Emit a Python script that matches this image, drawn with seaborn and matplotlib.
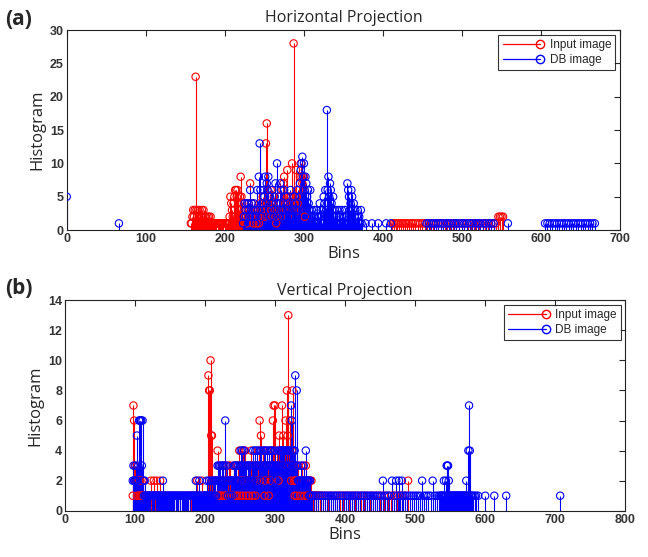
import numpy as np
import pandas as pd
import matplotlib
matplotlib.use("Agg")
import matplotlib.pyplot as plt
import seaborn as sns
from matplotlib.lines import Line2D
from matplotlib.legend_handler import HandlerLine2D

# ---- data: (a) horizontal projection ----
h_input_start = 157
h_input_vals = [1, 1, 2, 3, 2, 3, 23, 3, 2, 3,
                2, 3, 1, 2, 3, 2, 3, 1, 2, 2,
                1, 2, 1, 2, 1, 2, 1, 1, 1, 1,
                1, 1, 1, 0, 1, 1, 1, 1, 1, 1,
                1, 1, 0, 1, 1, 1, 1, 1, 1, 2,
                5, 4, 3, 2, 4, 5, 6, 6, 5, 6,
                4, 3, 5, 8, 5, 4, 2, 3, 4, 2,
                3, 1, 2, 4, 3, 7, 2, 4, 3, 1,
                2, 3, 2, 1, 3, 2, 1, 4, 2, 3,
                2, 5, 3, 2, 4, 13, 16, 6, 4, 3,
                5, 6, 3, 2, 4, 5, 3, 2, 1, 3,
                2, 4, 3, 5, 2, 3, 6, 7, 8, 4,
                3, 5, 9, 4, 5, 3, 5, 4, 10, 5,
                28, 3, 4, 9, 5, 4, 3, 6, 8, 10,
                8, 7, 6, 8, 2]
h_input_tail_bins = [412, 414, 416, 418, 420, 423, 425, 428, 430, 433, 436, 438, 441,
                     444, 447, 450, 453, 456, 460, 463, 467, 470, 474, 478, 481, 485,
                     489, 492, 496, 500, 503, 507, 511, 515, 518, 522, 526, 529, 533,
                     537, 540, 543, 546, 548, 550, 552]
h_input_tail_vals = [1, 1, 1, 1, 1, 1, 1, 1, 1, 1, 1, 1, 1,
                     1, 1, 1, 1, 1, 1, 1, 1, 1, 1, 1, 1, 1,
                     1, 1, 1, 1, 1, 1, 1, 1, 1, 1, 1, 1, 1,
                     1, 1, 1, 2, 2, 2, 2]

h_db_start = 223
h_db_vals = [1, 2, 4, 3, 2, 4, 3, 4, 2, 6,
             3, 4, 2, 3, 4, 2, 3, 2, 6, 3,
             8, 13, 6, 2, 4, 3, 6, 5, 8, 4,
             7, 6, 8, 3, 5, 2, 4, 6, 3, 2,
             5, 7, 4, 10, 3, 2, 4, 7, 6, 3,
             2, 4, 6, 3, 5, 2, 3, 4, 2, 3,
             6, 2, 4, 3, 2, 5, 3, 4, 2, 6,
             3, 5, 7, 9, 10, 11, 8, 10, 6, 8,
             7, 5, 6, 4, 3, 6, 2, 3, 1, 2,
             3, 2, 1, 3, 2, 1, 2, 4, 3, 2,
             1, 3, 5, 4, 6, 3, 18, 6, 8, 5,
             7, 6, 4, 3, 5, 2, 3, 1, 2, 3,
             1, 2, 3, 2, 1, 3, 2, 1, 2, 3,
             1, 2, 7, 6, 5, 3, 4, 6, 5, 3,
             4, 2, 3, 1, 2, 3, 1, 2, 1, 3,
             1]
h_db_tail_bins = [0, 66, 378, 386, 394, 404, 410, 455, 458, 461, 464, 467, 470, 473,
                  476, 480, 483, 486, 490, 493, 496, 500, 503, 506, 510, 513, 517, 520,
                  523, 527, 530, 534, 537, 540, 558, 605, 608, 611, 614, 617, 620, 623,
                  626, 629, 632, 635, 638, 641, 644, 647, 650, 653, 656, 659, 662, 665, 668]
h_db_tail_vals = [5, 1, 1, 1, 1, 1, 1, 1, 1, 1, 1, 1, 1, 1,
                  1, 1, 1, 1, 1, 1, 1, 1, 1, 1, 1, 1, 1, 1,
                  1, 1, 1, 1, 1, 1, 1, 1, 1, 1, 1, 1, 1, 1,
                  1, 1, 1, 1, 1, 1, 1, 1, 1, 1, 1, 1, 1, 1, 1]

# ---- data: (b) vertical projection ----
v_input_start = 97
v_input_vals = [1, 7, 6, 3, 2, 2, 1, 2, 1, 2,
                1, 2, 1, 1, 2, 1]
v_input_mid_bins = [115, 118, 121, 123, 125, 127, 129, 131, 134, 136, 139, 143, 147, 150,
                    154, 158, 161, 165, 169, 172, 176, 180, 183, 186, 189, 193, 196, 199, 202]
v_input_mid_vals = [1, 1, 1, 2, 1, 2, 1, 2, 1, 2, 1, 1, 1, 1,
                    1, 1, 1, 1, 1, 1, 1, 1, 1, 1, 2, 1, 2, 1, 1]
v_input_start2 = 205
v_input_vals2 = [9, 8, 8, 10, 5, 5, 2, 1, 2, 1,
                 2, 1, 2, 4, 1, 3, 2, 1, 2, 1,
                 2, 3, 1, 2, 1, 3, 2, 1, 2, 3,
                 1, 3, 2, 1, 2, 1, 3, 2, 1, 2,
                 3, 1, 3, 2, 4, 1, 2, 3, 2, 1,
                 4, 2, 4, 3, 1, 2, 3, 2, 1, 3,
                 2, 4, 3, 1, 2, 3, 2, 1, 3, 2,
                 2, 3, 4, 6, 3, 5, 2, 3, 4, 2,
                 1, 2, 3, 2, 4, 3, 1, 3, 2, 4,
                 3, 4, 6, 7, 4, 7, 3, 2, 4, 3,
                 2, 5, 3, 4, 3, 7, 4, 5, 3, 4,
                 6, 4, 8, 5, 13, 4, 6, 3, 2, 4,
                 8, 3, 2, 1, 2, 2, 1, 2, 3, 2,
                 2, 1, 2, 2, 3, 2, 2, 1, 2, 3,
                 2, 1, 2, 1, 2, 2, 1, 2, 1, 1,
                 1, 1, 0, 1, 1, 0, 1, 1, 0, 1, 1]
v_input_tail_bins = [368, 372, 376, 380, 385, 389, 393, 397, 401, 405, 410, 414, 418, 423,
                     427, 431, 436, 440, 445, 450, 456, 461, 466, 470, 474, 478, 481, 486, 490]
v_input_tail_vals = [1, 1, 1, 1, 1, 1, 1, 1, 1, 1, 1, 1, 1, 1,
                     1, 1, 1, 1, 1, 1, 1, 1, 1, 1, 1, 1, 1, 1, 2]

v_db_start = 97
v_db_vals = [2, 3, 2, 2, 3, 2, 5, 2, 3, 6,
             6, 6, 6, 3, 6, 2, 1, 2, 1, 1,
             1, 0, 1, 1, 1, 1, 0, 1, 1, 1,
             1, 1, 0, 1, 1, 1, 1, 1, 0, 1,
             1, 1, 1, 2, 1, 0, 1, 1, 0, 1,
             1, 0, 1, 1, 0, 1, 1, 0, 1, 1,
             0, 1, 1, 1, 0, 1, 0, 1, 1, 0,
             1, 1, 0, 1, 1, 0, 1, 0, 1, 1,
             0, 1, 1, 0, 1, 1, 1, 0, 1, 1,
             2, 1, 1, 1, 1, 2, 1, 1, 0, 1,
             1, 1, 1, 1, 1, 1, 2, 1]
v_db_start2 = 205
v_db_vals2 = [1, 2, 1, 1, 2, 1, 2, 1, 2, 1,
              2, 1, 2, 3, 2, 3, 2, 3, 2, 3,
              2, 3, 2, 3, 6, 2, 3, 2, 1, 2,
              2, 1, 2, 2, 1, 2, 3, 2, 3, 2,
              3, 2, 2, 3, 2, 3, 4, 3, 4, 2,
              3, 4, 3, 2, 3, 2, 3, 2, 3, 2,
              3, 2, 3, 2, 4, 3, 2, 4, 3, 4,
              3, 2, 3, 4, 3, 4, 3, 2, 3, 4,
              3, 4, 3, 4, 3, 2, 3, 4, 3, 4,
              3, 4, 3, 2, 3, 4, 3, 2, 3, 3,
              4, 3, 4, 3, 4, 4, 3, 4, 4, 3,
              4, 4, 3, 4, 4, 3, 4, 3, 7, 6,
              4, 3, 4, 4, 9, 3, 8, 3, 2, 2,
              2, 2, 3, 2, 2, 2, 3, 2, 2, 4,
              2, 2, 2, 2, 1, 2, 1, 1]
v_db_tail_bins = [353, 356, 359, 362, 365, 368, 371, 374, 377, 380, 383, 386, 389, 392,
                  395, 398, 401, 404, 407, 410, 413, 416, 419, 422, 425, 428, 431, 434,
                  437, 440, 443, 446, 449, 452, 454, 457, 460, 463, 467, 470, 473, 475,
                  477, 479, 481, 483, 486, 489, 492, 495, 498, 501, 504, 507, 510, 513,
                  516, 519, 522, 525, 528, 531, 534]
v_db_tail_vals = [1, 1, 1, 1, 1, 1, 1, 1, 1, 1, 1, 1, 1, 1,
                  1, 1, 1, 1, 1, 1, 1, 1, 1, 1, 1, 1, 1, 1,
                  1, 1, 1, 1, 1, 1, 2, 1, 1, 1, 2, 1, 2, 1,
                  2, 1, 2, 1, 1, 1, 1, 1, 1, 1, 1, 1, 2, 1,
                  1, 1, 1, 2, 1, 1, 1]
v_db_start3 = 536
v_db_vals3 = [1, 1, 1, 1, 1, 2, 1, 1, 2, 3,
              3, 3, 2, 1, 1, 1, 1, 1, 1, 1,
              1, 1, 1, 1, 1, 1, 1, 1, 1, 1,
              1, 1, 1, 1, 1, 1, 1, 2, 1, 1,
              4, 7, 4, 1, 1, 1, 0, 1, 0, 1,
              0, 1, 0, 0, 1]
v_db_end_bins = [600, 613, 630, 707]
v_db_end_vals = [1, 1, 1, 1]

series_names = ['Input image', 'DB image']
series_colors = ['#ff0000', '#0000ff']


def build(blocks, sparse):
    bins, vals = [], []
    for start, v in blocks:
        bins += list(range(start, start + len(v)))
        vals += list(v)
    for b, v in sparse:
        bins += list(b)
        vals += list(v)
    df = pd.DataFrame({'Bins': bins, 'Histogram': vals})
    return df[df['Histogram'] > 0]


h_input = build([(h_input_start, h_input_vals)], [(h_input_tail_bins, h_input_tail_vals)])
h_db = build([(h_db_start, h_db_vals)], [(h_db_tail_bins, h_db_tail_vals)])
v_input = build([(v_input_start, v_input_vals), (v_input_start2, v_input_vals2)],
                [(v_input_mid_bins, v_input_mid_vals), (v_input_tail_bins, v_input_tail_vals)])
v_db = build([(v_db_start, v_db_vals), (v_db_start2, v_db_vals2), (v_db_start3, v_db_vals3)],
             [(v_db_tail_bins, v_db_tail_vals), (v_db_end_bins, v_db_end_vals)])

sns.set_style("white")
plt.rcParams['font.family'] = ['Liberation Sans', 'DejaVu Sans']


# legend key like MATLAB's stem: line with the circle at its right end
class EndMarkerHandler(HandlerLine2D):
    def create_artists(self, *args, **kwargs):
        artists = super().create_artists(*args, **kwargs)
        for a in artists:
            if isinstance(a, Line2D) and a.get_markevery() == [1]:
                a.set_markevery([2])
        return artists


fig = plt.figure(figsize=(6.48, 5.57), dpi=100, facecolor='white')
ax1 = fig.add_axes([0.103, 0.587, 0.854, 0.359])
ax2 = fig.add_axes([0.100, 0.083, 0.865, 0.378])


def stem(ax, df, color):
    ax.vlines(df['Bins'], 0, df['Histogram'], color=color, linewidth=0.8, zorder=2)
    sns.scatterplot(data=df, x='Bins', y='Histogram', ax=ax, marker='o', s=28,
                    color=color, facecolor='none', edgecolor=color, linewidth=0.8,
                    zorder=3, legend=False)


def style(ax, title, xmax, ymax, xstep, ystep, pad):
    ax.set_xlim(0, xmax)
    ax.set_ylim(0, ymax)
    ax.set_xticks(np.arange(0, xmax + 1, xstep))
    ax.set_yticks(np.arange(0, ymax + 1, ystep))
    ax.tick_params(direction='in', top=True, right=True, length=4, width=0.8,
                   labelsize=9, labelcolor='#333333', pad=2)
    for lab in ax.get_xticklabels() + ax.get_yticklabels():
        lab.set_fontweight('bold')
    for sp in ax.spines.values():
        sp.set_color('#222222')
        sp.set_linewidth(0.8)
    ax.set_title(title, fontfamily='Open Sans', fontsize=11.5, pad=pad)
    ax.set_xlabel('Bins', fontfamily='Open Sans', fontsize=12, labelpad=1)
    ax.set_ylabel('Histogram', fontfamily='Open Sans', fontsize=12, labelpad=3)
    handles = [Line2D([0], [0], color=c, lw=0.9, marker='o', markersize=6,
                      markerfacecolor='none', markeredgecolor=c, label=n)
               for n, c in zip(series_names, series_colors)]
    leg = ax.legend(handles=handles, loc='upper right', fontsize=8.5, frameon=True,
                    fancybox=False, edgecolor='black', borderpad=0.35,
                    handlelength=3.2, labelspacing=0.25, borderaxespad=0.4,
                    handler_map={Line2D: EndMarkerHandler()})
    leg.get_frame().set_linewidth(0.8)


stem(ax1, h_input, series_colors[0])
stem(ax1, h_db, series_colors[1])
style(ax1, 'Horizontal Projection', 700, 30, 100, 5, 6)

stem(ax2, v_input, series_colors[0])
stem(ax2, v_db, series_colors[1])
style(ax2, 'Vertical Projection', 800, 14, 100, 2, 4)

fig.text(0.008, 0.955, '(a)', fontfamily='Open Sans', fontweight='bold', fontsize=15)
fig.text(0.008, 0.472, '(b)', fontfamily='Open Sans', fontweight='bold', fontsize=15)

fig.savefig('out.png', dpi=100, facecolor='white')
